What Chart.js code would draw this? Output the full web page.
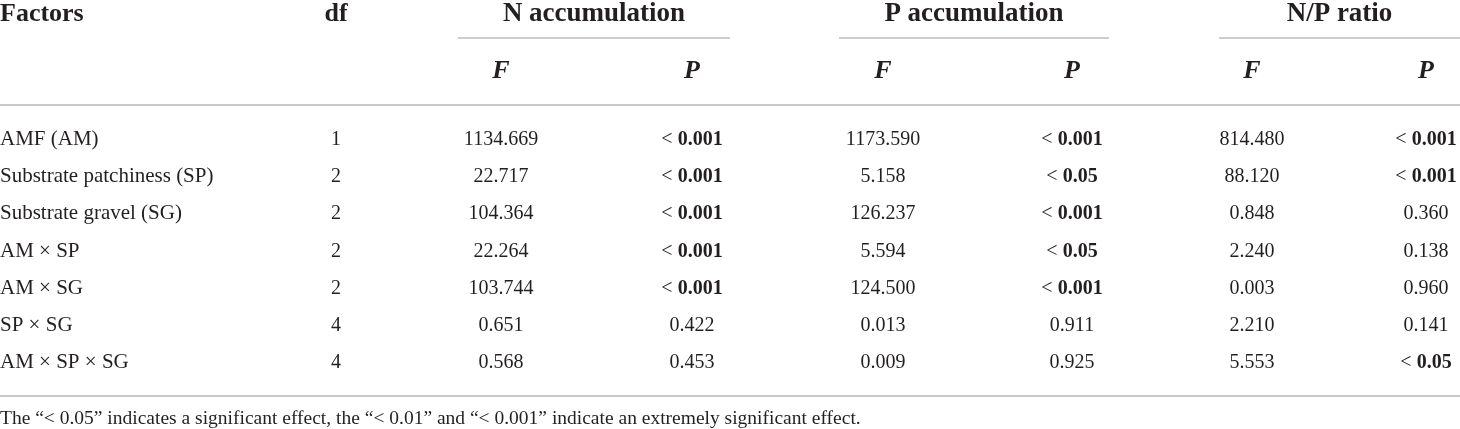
<!DOCTYPE html>
<html>
<head>
<meta charset="utf-8">
<script src="https://cdn.jsdelivr.net/npm/chart.js@4.4.1/dist/chart.umd.min.js"></script>
<style>
  html, body { margin: 0; padding: 0; background: #fff; }
  #wrap { width: 1460px; height: 429px; }
</style>
</head>
<body>
<div id="wrap"><canvas id="tbl" width="1460" height="429"></canvas></div>
<script>
var factors = ['AMF (AM)', 'Substrate patchiness (SP)', 'Substrate gravel (SG)', 'AM × SP', 'AM × SG', 'SP × SG', 'AM × SP × SG'];
var dfValues = ['1', '2', '2', '2', '2', '4', '4'];
var nF = ['1134.669', '22.717', '104.364', '22.264', '103.744', '0.651', '0.568'];
var nP = ['< 0.001', '< 0.001', '< 0.001', '< 0.001', '< 0.001', '0.422', '0.453'];
var pF = ['1173.590', '5.158', '126.237', '5.594', '124.500', '0.013', '0.009'];
var pP = ['< 0.001', '< 0.05', '< 0.001', '< 0.05', '< 0.001', '0.911', '0.925'];
var npF = ['814.480', '88.120', '0.848', '2.240', '0.003', '2.210', '5.553'];
var npP = ['< 0.001', '< 0.001', '0.360', '0.138', '0.960', '0.141', '< 0.05'];
var groups = ['N accumulation', 'P accumulation', 'N/P ratio'];
var subHeads = ['F', 'P'];
var footnote = 'The \u201c< 0.05\u201d indicates a significant effect, the \u201c< 0.01\u201d and \u201c< 0.001\u201d indicate an extremely significant effect.';

// layout (table units = px on the x scale)
var colX = { df: 336, nF: 501, nP: 692, pF: 883, pP: 1072, npF: 1252, npP: 1426 };
var groupSpans = [[458, 730], [839, 1109], [1219, 1460]];
var FONT = '"Liberation Serif", "DejaVu Serif", serif';
var INK = '#231f20';
var RULE = '#c9c9c9';

function col(key, texts, align, size) {
  return {
    label: key,
    texts: texts,
    align: align || 'center',
    size: size || 20,
    data: texts.map(function(t, i) { return { x: colX[key] === undefined ? 0 : colX[key], y: factors[i] }; }),
    pointRadius: 0,
    pointHoverRadius: 0
  };
}

function drawP(ctx, txt, cx, y, size) {
  // "< 0.001": the sign regular, the number bold
  if (txt.charAt(0) === '<') {
    var num = txt.slice(2);
    ctx.font = size + 'px ' + FONT;
    var w1 = ctx.measureText('< ').width;
    ctx.font = 'bold ' + size + 'px ' + FONT;
    var w2 = ctx.measureText(num).width;
    var x0 = cx - (w1 + w2) / 2;
    ctx.textAlign = 'left';
    ctx.font = size + 'px ' + FONT;
    ctx.fillText('< ', x0, y);
    ctx.font = 'bold ' + size + 'px ' + FONT;
    ctx.fillText(num, x0 + w1, y);
  } else {
    ctx.font = size + 'px ' + FONT;
    ctx.textAlign = 'center';
    ctx.fillText(txt, cx, y);
  }
}

function hline(ctx, x1, x2, y, w, c) {
  ctx.beginPath();
  ctx.strokeStyle = c;
  ctx.lineWidth = w;
  ctx.moveTo(x1, y);
  ctx.lineTo(x2, y);
  ctx.stroke();
}

var tablePlugin = {
  id: 'tableText',
  afterDatasetsDraw: function(chart) {
    var ctx = chart.ctx;
    var xs = chart.scales.x;
    var area = chart.chartArea;
    var headSize = 26;
    ctx.save();
    ctx.fillStyle = INK;
    ctx.textBaseline = 'alphabetic';

    // header row 1
    ctx.font = 'bold ' + headSize + 'px ' + FONT;
    ctx.textAlign = 'left';
    ctx.fillText('Factors', xs.getPixelForValue(0), 21);
    ctx.textAlign = 'center';
    ctx.fillText('df', xs.getPixelForValue(colX.df), 21);
    groups.forEach(function(g, i) {
      var a = xs.getPixelForValue(groupSpans[i][0]), b = xs.getPixelForValue(groupSpans[i][1]);
      ctx.font = 'bold ' + (headSize + 1) + 'px ' + FONT;
      ctx.textAlign = 'center';
      ctx.fillText(g, (a + b) / 2, 21);
      hline(ctx, a, b, 38, 1.5, '#bdbdbd');
    });

    // header row 2
    ctx.font = 'italic bold ' + headSize + 'px ' + FONT;
    ctx.textAlign = 'center';
    [['nF', 'nP'], ['pF', 'pP'], ['npF', 'npP']].forEach(function(pair) {
      ctx.fillText(subHeads[0], xs.getPixelForValue(colX[pair[0]]), 78);
      ctx.fillText(subHeads[1], xs.getPixelForValue(colX[pair[1]]), 78);
    });

    hline(ctx, area.left, area.right, 105, 2, RULE);
    hline(ctx, area.left, area.right, 396, 2, RULE);

    // body cells at the positions the scales give
    chart.data.datasets.forEach(function(ds, di) {
      var meta = chart.getDatasetMeta(di);
      meta.data.forEach(function(pt, i) {
        var y = pt.y + 20 * 0.33;
        var t = ds.texts[i];
        ctx.fillStyle = INK;
        if (ds.label.slice(-1) === 'P') {
          drawP(ctx, t, pt.x, y, ds.size);
        } else {
          ctx.font = ds.size + 'px ' + FONT;
          ctx.textAlign = ds.align;
          ctx.fillText(t, pt.x, y);
        }
      });
    });

    ctx.font = '19.5px ' + FONT;
    ctx.textAlign = 'left';
    ctx.fillText(footnote, xs.getPixelForValue(0), 424);
    ctx.restore();
  }
};

new Chart(document.getElementById('tbl'), {
  type: 'scatter',
  data: {
    datasets: [
      col('factor', factors, 'left', 21),
      col('df', dfValues),
      col('nF', nF),
      col('nP', nP),
      col('pF', pF),
      col('pP', pP),
      col('npF', npF),
      col('npP', npP)
    ]
  },
  options: {
    responsive: false,
    animation: false,
    events: [],
    layout: { padding: { left: 0, right: 0, top: 120, bottom: 49 } },
    plugins: { legend: { display: false }, tooltip: { enabled: false } },
    scales: {
      x: { type: 'linear', min: 0, max: 1460, display: false },
      y: { type: 'category', labels: factors, offset: true, display: false }
    }
  },
  plugins: [tablePlugin]
});
</script>
</body>
</html>
